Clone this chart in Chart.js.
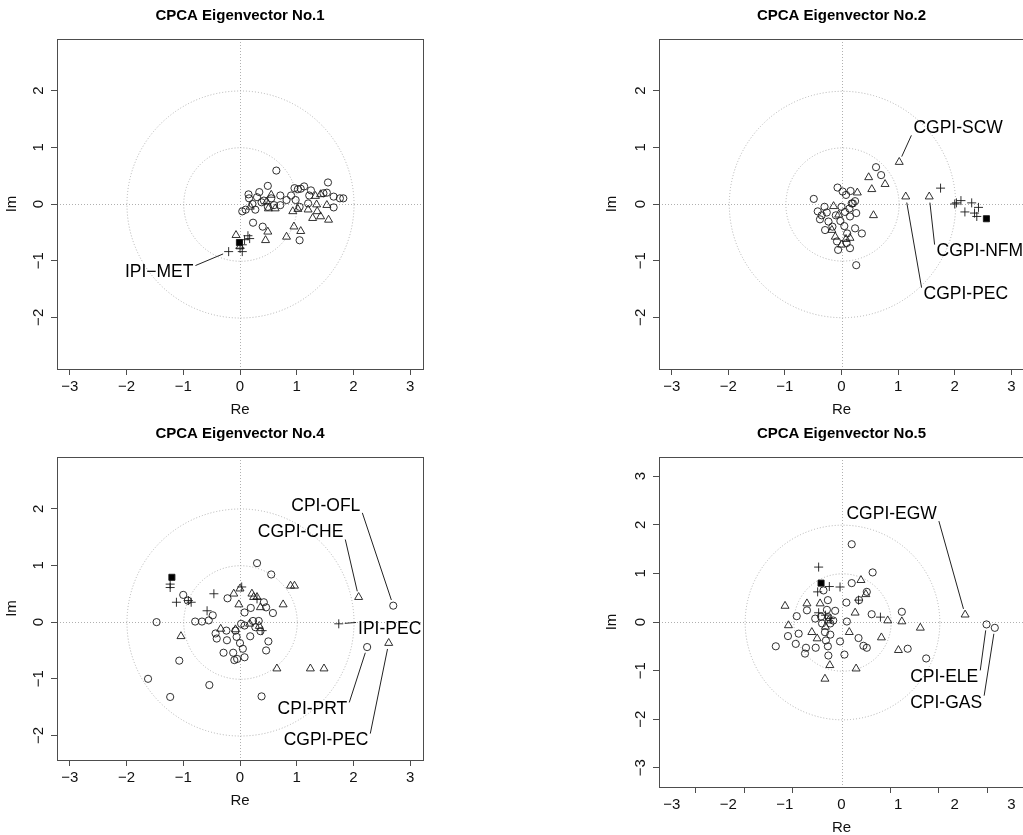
<!DOCTYPE html>
<html>
<head>
<meta charset="utf-8">
<script src="https://cdn.jsdelivr.net/npm/chart.js@4.4.1/dist/chart.umd.min.js"></script>
<style>
  html, body { margin: 0; padding: 0; background: #fff; width: 1023px; height: 835px; overflow: hidden; }
  canvas { position: absolute; }
</style>
</head>
<body>
<canvas id="ev1" width="440" height="421" style="left:0;top:0"></canvas>
<canvas id="ev2" width="440" height="421" style="left:600px;top:0"></canvas>
<canvas id="ev4" width="440" height="394" style="left:0;top:418px"></canvas>
<canvas id="ev5" width="440" height="421" style="left:600px;top:418px"></canvas>
<script>
// tick labels
const reTicks = [-3, -2, -1, 0, 1, 2, 3];
const reTickMarks5 = [-3, -2, -1, 1, 2, 3];
const imTicks = [-2, -1, 0, 1, 2];
const imTicks5 = [-3, -2, -1, 0, 1, 2, 3];
const circleRadii = [1, 2];

// eigenvector No.1  [Re, Im]
const ev1Circles = [[0.64,0.59],[0.49,0.32],[0.15,0.17],[0.16,0.1],[0.34,0.21],[0.71,0.15],[0.42,0.06],[0.38,0.03],
  [0.04,-0.13],[0.1,-0.1],[0.27,-0.1],[0.49,-0.05],[0.6,-0.02],[0.71,-0.02],[0.82,0.07],[0.9,0.15],[1.02,0.26],
  [1.13,0.31],[1.22,0.15],[1.25,0.24],[0.98,0.07],[1.05,-0.05],[1.2,0.01],[1.55,0.38],[1.53,0.2],[1.47,0.19],
  [1.65,0.13],[1.76,0.1],[1.82,0.1],[1.65,-0.06],[0.23,-0.33],[0.4,-0.4],[1.05,-0.64],[0.96,0.28],[1.07,0.27],
  [0.3,0.12],[0.55,0.1],[0.22,0.0]];
const ev1Triangles = [[0.55,0.16],[0.18,-0.05],[0.47,0.04],[0.5,-0.08],[0.62,-0.08],[0.93,-0.13],[1.02,-0.09],
  [1.2,-0.1],[1.35,-0.01],[1.42,0.17],[1.53,-0.02],[1.28,-0.25],[1.36,-0.13],[1.42,-0.22],[1.56,-0.28],[0.95,-0.4],
  [1.07,-0.48],[0.82,-0.58],[0.45,-0.64],[0.49,-0.49],[-0.07,-0.55],[0.0,-0.75],[1.33,0.14]];
const ev1Crosses = [[0.14,-0.56],[0.08,-0.63],[0.17,-0.61],[0.04,-0.72],[0.04,-0.84],[-0.2,-0.84],[0.0,-0.78]];
const ev1Square = [[-0.01,-0.68]];
const ev1Labels = [
  { name: "IPI\u2212MET", at: [-0.2, -0.84], text: [-0.82, -1.21], align: "right" },
];

// eigenvector No.2
const ev2Circles = [[-0.49,0.09],[-0.07,0.29],[0.02,0.22],[0.08,0.16],[0.16,0.23],[0.24,0.05],[0.2,0.01],[0.14,-0.08],
  [0.06,-0.14],[0.15,-0.22],[0.26,-0.16],[0.05,-0.39],[0.24,-0.43],[0.36,-0.52],[0.26,-1.08],[0.61,0.65],[0.7,0.51],
  [-0.42,-0.13],[-0.38,-0.27],[-0.3,-0.05],[-0.26,-0.15],[-0.23,-0.31],[-0.29,-0.46],[-0.16,-0.4],[-0.08,-0.66],
  [-0.06,-0.81],[0.15,-0.78],[0.09,-0.69],[0.18,0.01],[-0.1,-0.2],[-0.02,-0.3],[0.1,-0.52],[-0.35,-0.2],[0.0,-0.05]];
const ev2Triangles = [[1.02,0.74],[0.48,0.47],[0.535,0.26],[0.77,0.35],[0.28,0.2],[1.135,0.13],[1.55,0.13],[0.565,-0.2],
  [-0.14,-0.04],[-0.05,-0.19],[-0.17,-0.46],[-0.11,-0.58],[0.15,-0.6],[0.0,-0.72],[0.08,-0.62]];
const ev2Crosses = [[1.75,0.28],[2.03,0.02],[2.11,0.06],[2.3,0.02],[2.42,-0.06],[2.18,-0.14],[2.35,-0.16],[2.39,-0.22],[2.0,0.0]];
const ev2Square = [[2.56,-0.26]];
const ev2Labels = [
  { name: "CGPI-SCW", at: [1.02, 0.74], text: [1.27, 1.335], align: "left" },
  { name: "CGPI-NFM", at: [1.55, 0.13], text: [1.68, -0.84], align: "left" },
  { name: "CGPI-PEC", at: [1.135, 0.13], text: [1.45, -1.6], align: "left" },
];

// eigenvector No.4
const ev4Circles = [[0.3,1.04],[0.55,0.84],[-1.47,0.0],[-1.0,0.48],[-0.92,0.38],[-0.79,0.01],[-0.67,0.01],[-0.55,0.03],
  [-0.48,0.12],[-0.22,0.42],[-1.07,-0.68],[-1.62,-1.0],[-1.23,-1.32],[-0.54,-1.11],[0.38,-1.31],[0.08,0.17],[0.19,0.25],
  [0.42,0.35],[0.46,0.26],[0.58,0.16],[0.02,-0.03],[0.08,-0.06],[0.27,-0.09],[-0.43,-0.2],[-0.41,-0.29],[-0.24,-0.15],
  [-0.08,-0.15],[-0.06,-0.26],[-0.29,-0.54],[-0.23,-0.32],[-0.12,-0.54],[-0.1,-0.67],[-0.05,-0.65],[0.05,-0.47],
  [0.08,-0.62],[0.0,-0.37],[0.18,-0.25],[0.5,-0.34],[0.46,-0.5],[0.36,-0.16],[2.7,0.29],[2.24,-0.44],[0.23,0.02],[0.33,0.02]];
const ev4Triangles = [[0.0,0.59],[-0.11,0.5],[0.21,0.5],[0.24,0.44],[0.3,0.44],[-0.02,0.31],[0.36,0.26],[0.76,0.31],
  [0.89,0.64],[0.96,0.64],[2.09,0.44],[2.62,-0.37],[-1.04,-0.25],[-0.34,-0.12],[-0.08,-0.13],[0.17,-0.03],[0.34,-0.07],
  [0.65,-0.82],[1.24,-0.82],[1.48,-0.82]];
const ev4Crosses = [[-1.23,0.67],[-1.23,0.61],[-1.12,0.35],[-0.91,0.38],[-0.86,0.35],[-0.46,0.5],[-0.58,0.2],[0.03,0.62],
  [0.3,0.41],[0.39,-0.15],[1.74,-0.03]];
const ev4Square = [[-1.2,0.79]];
const ev4Labels = [
  { name: "CPI-OFL", at: [2.7, 0.29], text: [2.12, 2.05], align: "right" },
  { name: "CGPI-CHE", at: [2.09, 0.44], text: [1.82, 1.58], align: "right" },
  { name: "IPI-PEC", at: [1.74, -0.03], text: [2.08, -0.13], align: "left" },
  { name: "CPI-PRT", at: [2.24, -0.44], text: [1.89, -1.54], align: "right" },
  { name: "CGPI-PEC", at: [2.62, -0.37], text: [2.26, -2.09], align: "right" },
];

// eigenvector No.5
const ev5Circles = [[0.21,1.6],[0.64,1.02],[0.21,0.8],[-0.37,0.65],[-0.28,0.45],[0.1,0.4],[0.36,0.45],[0.52,0.62],
  [-0.71,0.24],[-0.92,0.12],[-0.54,0.07],[-0.42,0.11],[-0.3,0.25],[-0.27,0.1],[-0.13,0.23],[-0.17,0.03],[-0.23,-0.03],
  [0.11,0.01],[0.62,0.16],[1.24,0.21],[2.98,-0.05],[3.15,-0.12],[-1.35,-0.5],[-1.1,-0.29],[-0.88,-0.24],[-0.94,-0.45],
  [-0.73,-0.53],[-0.75,-0.65],[-0.53,-0.53],[-0.34,-0.21],[-0.32,-0.38],[-0.28,-0.5],[-0.23,-0.26],[-0.27,-0.69],
  [-0.03,-0.4],[0.06,-0.67],[0.35,-0.33],[0.45,-0.49],[0.52,-0.53],[1.36,-0.55],[1.74,-0.75],[-0.4,-0.03]];
const ev5Triangles = [[0.4,0.86],[0.5,0.57],[-1.16,0.33],[-0.71,0.38],[-0.44,0.38],[-1.09,-0.07],[-0.61,-0.21],
  [-0.5,-0.34],[-0.27,0.03],[0.28,0.19],[0.16,-0.21],[0.82,-0.32],[0.95,0.03],[1.24,0.01],[1.62,-0.12],[1.17,-0.58],
  [-0.24,-0.89],[-0.34,-1.17],[0.3,-0.96],[2.54,0.15],[-0.33,-0.1]];
const ev5Crosses = [[-0.47,1.13],[-0.25,0.73],[-0.03,0.72],[-0.49,0.62],[0.35,0.45],[-0.47,0.19],[-0.33,0.14],[0.8,0.1],[-0.23,0.07]];
const ev5Square = [[-0.42,0.8]];
const ev5Labels = [
  { name: "CGPI-EGW", at: [2.54, 0.15], text: [1.96, 2.22], align: "right" },
  { name: "CPI-ELE", at: [2.98, -0.05], text: [2.81, -1.14], align: "right" },
  { name: "CPI-GAS", at: [3.15, -0.12], text: [2.89, -1.66], align: "right" },
];

const FONT = "'Liberation Sans', Arial, Helvetica, sans-serif";
Chart.defaults.font.family = FONT;
Chart.defaults.color = "#111";

const fmt = (v) => (v < 0 ? "\u2212" + Math.abs(v) : String(v));

const pts = (data, style, radius, fill) => ({
  data: data.map(([x, y]) => ({ x, y })),
  pointStyle: style,
  pointRadius: radius,
  pointBorderWidth: 0.9,
  pointBorderColor: "#1a1a1a",
  pointBackgroundColor: fill,
  showLine: false,
});

// dotted guides, frame, title and labelled points
const decor = {
  id: "decor",
  beforeDatasetsDraw(chart) {
    const { ctx, chartArea: a, scales: { x, y } } = chart;
    const x0 = Math.round(x.getPixelForValue(0)) + 0.5;
    const y0 = Math.round(y.getPixelForValue(0)) + 0.5;
    ctx.save();
    ctx.beginPath();
    ctx.rect(a.left, a.top, a.width, a.height);
    ctx.clip();
    ctx.strokeStyle = "#b0b0b0";
    ctx.lineWidth = 1;
    ctx.setLineDash([1, 2]);
    ctx.beginPath();
    ctx.moveTo(a.left, y0); ctx.lineTo(a.right, y0);
    ctx.moveTo(x0, a.top); ctx.lineTo(x0, a.bottom);
    ctx.stroke();
    circleRadii.forEach((r) => {
      const rp = x.getPixelForValue(r) - x.getPixelForValue(0);
      ctx.beginPath();
      ctx.arc(x0, y0, rp, 0, Math.PI * 2);
      ctx.stroke();
    });
    ctx.restore();
  },
  afterDatasetsDraw(chart, args, opts) {
    const { ctx, chartArea: a, scales: { x, y } } = chart;
    ctx.save();
    ctx.strokeStyle = "#4d4d4d";
    ctx.lineWidth = 1;
    ctx.strokeRect(Math.round(a.left) + 0.5, Math.round(a.top) + 0.5, Math.round(a.width), Math.round(a.height));

    ctx.fillStyle = "#000";
    ctx.font = "bold 15px " + FONT;
    ctx.textAlign = "center";
    ctx.textBaseline = "middle";
    ctx.fillText(opts.title, (a.left + a.right) / 2, a.top - 23);

    ctx.font = "17.5px " + FONT;
    ctx.strokeStyle = "#222";
    opts.labels.forEach((l) => {
      const tx = x.getPixelForValue(l.text[0]);
      const ty = y.getPixelForValue(l.text[1]);
      const px = x.getPixelForValue(l.at[0]);
      const py = y.getPixelForValue(l.at[1]);
      ctx.textAlign = l.align;
      ctx.fillText(l.name, tx, ty);
      const sx = tx + (l.align === "right" ? 2 : -2);
      const sy = py < ty ? ty - 7 : ty + 7;
      const dx = px - sx, dy = py - sy;
      const len = Math.hypot(dx, dy);
      ctx.beginPath();
      ctx.moveTo(sx, sy);
      ctx.lineTo(px - (dx / len) * 6, py - (dy / len) * 6);
      ctx.stroke();
    });
    ctx.restore();
  },
};

const axisX = (min, max, ticks, opts = {}) => ({
  type: "linear",
  min, max,
  afterBuildTicks: (axis) => { axis.ticks = ticks.map((v) => ({ value: v })); },
  afterFit: (axis) => { axis.height = opts.height !== undefined ? opts.height : 52; },
  grid: { drawOnChartArea: false, drawTicks: opts.marks !== false, tickLength: 6, color: "#4d4d4d" },
  border: { display: false },
  ticks: { display: opts.labels !== false, font: { size: 15 }, color: "#111", padding: opts.marks === false ? 9 : 3, maxRotation: 0, autoSkip: false, callback: fmt },
  title: { display: opts.labels !== false, text: "Re", font: { size: 15 }, color: "#111", padding: { top: 0, bottom: 2 } },
  weight: opts.weight || 0,
});

const axisY = (min, max, ticks, width) => ({
  type: "linear",
  min, max,
  afterBuildTicks: (axis) => { axis.ticks = ticks.map((v) => ({ value: v })); },
  afterFit: (axis) => { axis.width = width; },
  grid: { drawOnChartArea: false, tickLength: 6, color: "#4d4d4d" },
  border: { display: false },
  ticks: { font: { size: 15 }, color: "#111", padding: 4, minRotation: 90, maxRotation: 90, crossAlign: "center", autoSkip: false, callback: fmt },
  title: { display: true, text: "Im", font: { size: 15 }, color: "#111", padding: { top: 3, bottom: 0 } },
});

const makePanel = (id, title, circles, triangles, crosses, square, labels, scales, padRight) => {
  new Chart(document.getElementById(id), {
    type: "scatter",
    data: {
      datasets: [
        pts(square, "rect", 4.3, "#000"),
        pts(crosses, "cross", 4.5, "rgba(0,0,0,0)"),
        pts(triangles, "triangle", 4.6, "rgba(0,0,0,0)"),
        pts(circles, "circle", 3.6, "rgba(0,0,0,0)"),
      ],
    },
    options: {
      responsive: false,
      animation: false,
      events: [],
      layout: { padding: { left: 0, top: 39, right: padRight, bottom: 0 } },
      scales,
      plugins: {
        legend: { display: false },
        tooltip: { enabled: false },
        decor: { title, labels },
      },
    },
    plugins: [decor],
  });
};

makePanel("ev1", "CPCA Eigenvector No.1", ev1Circles, ev1Triangles, ev1Crosses, ev1Square, ev1Labels,
  { x: axisX(-3.224, 3.224, reTicks), y: axisY(-2.912, 2.912, imTicks, 57) }, 17);
makePanel("ev2", "CPCA Eigenvector No.2", ev2Circles, ev2Triangles, ev2Crosses, ev2Square, ev2Labels,
  { x: axisX(-3.224, 3.224, reTicks), y: axisY(-2.912, 2.912, imTicks, 59) }, 16);
makePanel("ev4", "CPCA Eigenvector No.4", ev4Circles, ev4Triangles, ev4Crosses, ev4Square, ev4Labels,
  { x: axisX(-3.224, 3.224, reTicks), y: axisY(-2.432, 2.912, imTicks, 57) }, 17);
makePanel("ev5", "CPCA Eigenvector No.5", ev5Circles, ev5Triangles, ev5Crosses, ev5Square, ev5Labels,
  {
    x: axisX(-3.75, 3.75, reTickMarks5, { labels: false, height: 0 }),
    x2: axisX(-3.224, 3.224, reTicks, { marks: false, weight: 1 }),
    y: axisY(-3.395, 3.395, imTicks5, 59),
  }, 16);
</script>
</body>
</html>
